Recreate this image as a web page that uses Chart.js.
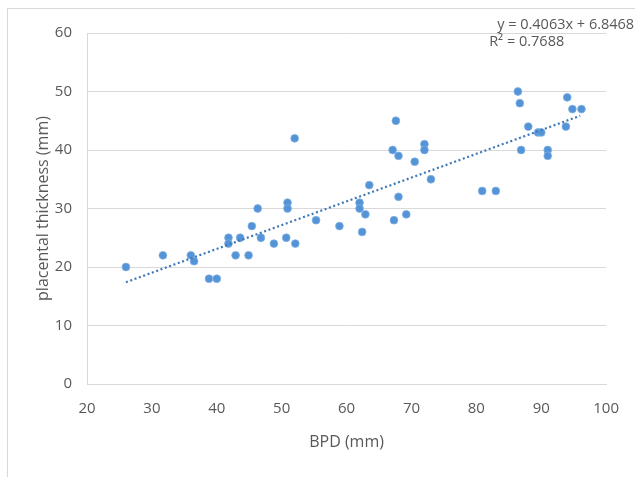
<!DOCTYPE html>
<html>
<head>
<meta charset="utf-8">
<script src="https://cdn.jsdelivr.net/npm/chart.js@4"></script>
<style>
  html, body { margin: 0; padding: 0; background: #fff; }
  #wrap { position: relative; width: 635px; height: 477px; overflow: hidden; }
</style>
</head>
<body>
<div id="wrap"><canvas id="chartArea" width="635" height="477"></canvas></div>
<script>
// BPD (mm) vs placental thickness (mm)
const bpd = [26, 31.7, 36, 36.5, 38.8, 40, 41.8, 41.8, 42.9, 43.6, 44.9, 45.4, 46.3, 46.8, 48.8, 50.7, 50.9, 50.9, 52.1,
             52, 55.3, 58.9, 62, 62, 62.9, 62.4, 63.5, 67.1, 67.6, 68, 68, 67.3, 69.2, 70.5, 72, 72, 73,
             80.9, 83, 86.4, 86.7, 86.9, 88, 89.5, 90, 91, 91, 94, 93.8, 94.8, 96.2];
const thickness = [20, 22, 22, 21, 18, 18, 25, 24, 22, 25, 22, 27, 30, 25, 24, 25, 31, 30, 24,
                   42, 28, 27, 31, 30, 29, 26, 34, 40, 45, 39, 32, 28, 29, 38, 41, 40, 35,
                   33, 33, 50, 48, 40, 44, 43, 43, 40, 39, 49, 44, 47, 47];

// linear trend line ends
const trendX = [26, 96];
const trendY = [17.4, 45.85];

const xTicks = [20, 30, 40, 50, 60, 70, 80, 90, 100];
const yTicks = [0, 10, 20, 30, 40, 50, 60];
const equationText = ['y = 0.4063x + 6.8468', 'R² = 0.7688'];

const grey = '#595959';
const gridGrey = '#d9d9d9';

const frame = {
    id: 'frame',
    beforeDraw(chart) {
        const c = chart.ctx;
        c.save();
        c.strokeStyle = gridGrey;
        c.lineWidth = 1;
        c.strokeRect(7.5, 8.5, 700, 600);
        c.restore();
    },
    afterDraw(chart) {
        const c = chart.ctx;
        const a = chart.chartArea;
        c.save();
        c.fillStyle = grey;
        c.font = '14.5px "Open Sans"';
        c.textBaseline = 'middle';
        c.textAlign = 'left';
        c.fillText(equationText[0], a.right - 109, a.top - 8);
        c.fillText(equationText[1], a.right - 117, a.top + 9);
        c.restore();
    }
};

const ctx = document.getElementById('chartArea');
new Chart(ctx, {
    type: 'scatter',
    data: {
        datasets: [
            {
                label: 'thickness',
                data: bpd.map((x, i) => ({x: x, y: thickness[i]})),
                backgroundColor: '#5393d6',
                borderColor: 'rgba(130,178,228,0.75)',
                borderWidth: 1,
                pointRadius: 3.9,
                order: 1
            },
            {
                label: 'trend',
                type: 'line',
                data: trendX.map((x, i) => ({x: x, y: trendY[i]})),
                borderColor: '#3d78b8',
                borderWidth: 2.2,
                borderDash: [2, 2.6],
                pointRadius: 0,
                fill: false,
                order: 0
            }
        ]
    },
    options: {
        responsive: false,
        animation: false,
        layout: { padding: { left: 34, top: 33, right: 28, bottom: 25 } },
        plugins: {
            legend: { display: false },
            tooltip: { enabled: false }
        },
        scales: {
            x: {
                type: 'linear',
                min: 20,
                max: 100,
                afterBuildTicks: (s) => { s.ticks = xTicks.map(v => ({value: v})); },
                afterFit: (s) => { s.height = 68; },
                grid: { display: false, drawTicks: false },
                border: { display: true, color: gridGrey, width: 1 },
                ticks: { color: grey, font: { family: 'Open Sans', size: 15 }, padding: 16, maxRotation: 0 },
                title: { display: true, text: 'BPD (mm)', color: grey, font: { family: 'Open Sans', size: 16 }, padding: 0 }
            },
            y: {
                type: 'linear',
                min: 0,
                max: 60,
                afterBuildTicks: (s) => { s.ticks = yTicks.map(v => ({value: v})); },
                afterFit: (s) => { s.width = 53; },
                grid: { color: gridGrey, lineWidth: 1, drawTicks: false },
                border: { display: true, color: gridGrey, width: 1 },
                ticks: { color: grey, font: { family: 'Open Sans', size: 15 }, padding: 15 },
                title: { display: true, text: 'placental thickness (mm)', color: grey, font: { family: 'Open Sans', size: 16 }, padding: 0 }
            }
        }
    },
    plugins: [frame]
});
</script>
</body>
</html>
